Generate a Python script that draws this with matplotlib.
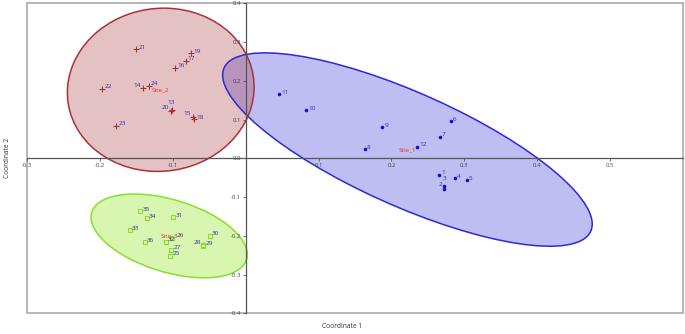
import numpy as np
import matplotlib.pyplot as plt
from matplotlib.patches import Ellipse, Rectangle

plt.rcParams['font.family'] = ['Open Sans', 'DejaVu Sans']

# Site_1 (blue dots)
labels_1 = [1, 2, 3, 4, 5, 6, 7, 8, 9, 10, 11, 12]
x_1 = [0.2655, 0.2723, 0.2723, 0.2870, 0.3034, 0.2812, 0.2663, 0.1633, 0.1874, 0.0833, 0.0459, 0.2353]
y_1 = [-0.0422, -0.0793, -0.0724, -0.0509, -0.0568, 0.0956, 0.0560, 0.0240, 0.0801, 0.1240, 0.1654, 0.0302]

# Site_2 (red crosses)
labels_2 = [13, 14, 15, 16, 17, 18, 19, 20, 21, 22, 23, 24]
x_2 = [-0.1007, -0.1404, -0.0719, -0.0970, -0.0822, -0.0710, -0.0750, -0.1021, -0.1500, -0.1970, -0.1778, -0.1330]
y_2 = [0.1240, 0.1809, 0.1068, 0.2341, 0.2510, 0.1008, 0.2713, 0.1222, 0.2817, 0.1791, 0.0835, 0.1878]

# Site_3 (green squares)
labels_3 = [25, 26, 27, 28, 29, 30, 31, 32, 33, 34, 35, 36]
x_3 = [-0.1034, -0.1007, -0.1021, -0.0590, -0.0580, -0.0496, -0.0993, -0.1099, -0.1592, -0.1353, -0.1445, -0.1381]
y_3 = [-0.2506, -0.2041, -0.2359, -0.2240, -0.2255, -0.1997, -0.1517, -0.2145, -0.1853, -0.1550, -0.1362, -0.2163]

site_names = ['Site_1', 'Site_2', 'Site_3']
x_ticks = [-0.3, -0.2, -0.1, 0.1, 0.2, 0.3, 0.4, 0.5]
y_ticks = [-0.4, -0.3, -0.2, -0.1, 0.0, 0.1, 0.2, 0.3, 0.4]

# labels that are not placed to the right of their point
special_offsets = {
    14: (-1.5, 2.0, 'right'), 20: (-1.5, 2.5, 'right'), 15: (-1.5, 2.5, 'right'),
    13: (-1.0, 5.5, 'center'), 3: (0.5, 5.5, 'center'), 2: (-1.0, 3.0, 'right'),
    28: (-1.0, 2.0, 'right'), 26: (3.0, 1.5, 'left'),
}

groups = [
    (labels_1, x_1, y_1, dict(marker='o', ms=2.6, color='#1010e0', mfc='#1010e0', mew=0),
     '#2a2ad8', '#2a2ad8'),
    (labels_2, x_2, y_2, dict(marker='+', ms=4, color='#a8343a', mew=0.8),
     '#a8343a', '#a8343a'),
    (labels_3, x_3, y_3, dict(marker='s', ms=3.2, color='#86e02a', mfc='none', mew=0.8),
     '#86e02a', '#8ce614'),
]

fig = plt.figure(figsize=(6.85, 3.34), dpi=100)
ax = fig.add_axes([0.0394, 0.0614, 0.9577, 0.9287])
ax.set_xlim(-0.3, 0.6)
ax.set_ylim(-0.4, 0.4)


def conf_ellipse(x, y, **kw):
    # 95% ellipse of the scatter
    x = np.asarray(x)
    y = np.asarray(y)
    n = len(x)
    m = n - 2
    f95 = m / 2 * (0.05 ** (-2 / m) - 1)
    k2 = 2 * (n - 1) / (n - 2) * f95
    cov = np.cov(x, y)
    vals, vecs = np.linalg.eigh(cov)
    ang = np.degrees(np.arctan2(vecs[1, 1], vecs[0, 1]))
    return Ellipse((x.mean(), y.mean()), 2 * np.sqrt(k2 * vals[1]), 2 * np.sqrt(k2 * vals[0]),
                   angle=ang, **kw)


# fills first, outlines on top
for labs, xs, ys, mk, edge, face in groups:
    a = 0.33 if face == '#8ce614' else 0.3
    ax.add_patch(conf_ellipse(xs, ys, facecolor=face, edgecolor='none', alpha=a, zorder=1))
for labs, xs, ys, mk, edge, face in groups:
    ax.add_patch(conf_ellipse(xs, ys, facecolor='none', edgecolor=edge, lw=1.1, zorder=1.5))

for (labs, xs, ys, mk, edge, face), name in zip(groups, site_names):
    ax.plot(xs, ys, ls='none', zorder=3, **mk)
    for lab, xv, yv in zip(labs, xs, ys):
        dx, dy, ha = special_offsets.get(lab, (1.5, 1.5, 'left'))
        ax.annotate(str(lab), (xv, yv), xytext=(dx, dy), textcoords='offset points',
                    ha=ha, va='center', fontsize=4.6, color='#2b2bb0', zorder=4)
    ax.text(np.mean(xs), np.mean(ys), name, ha='center', va='center',
            fontsize=4.6, color='#e8302c', zorder=4)

# axes crossing at zero
for side in ['top', 'right']:
    ax.spines[side].set_visible(False)
ax.spines['left'].set_position(('data', 0))
ax.spines['bottom'].set_position(('data', 0))
for side in ['left', 'bottom']:
    ax.spines[side].set_color('#555555')
    ax.spines[side].set_linewidth(0.9)
    ax.spines[side].set_zorder(2)
ax.add_patch(Rectangle((0, 0), 1, 1, transform=ax.transAxes, fill=False,
                       edgecolor='#aaaaaa', lw=1.2, clip_on=False, zorder=0))

ax.set_xticks(x_ticks)
ax.set_xticklabels(['%.1f' % v for v in x_ticks])
ax.set_yticks(y_ticks)
ax.set_yticklabels(['%.1f' % v for v in y_ticks])
ax.tick_params(axis='both', labelsize=4.3, labelcolor='#444444', color='#555555',
               length=2.5, width=0.6, pad=1)

fig.text(0.5, 0.012, 'Coordinate 1', ha='center', va='bottom', fontsize=4.8, color='#333333')
fig.text(0.006, 0.527, 'Coordinate 2', ha='left', va='center', rotation=90,
         fontsize=4.8, color='#333333')

fig.savefig('out.png', dpi=100)
